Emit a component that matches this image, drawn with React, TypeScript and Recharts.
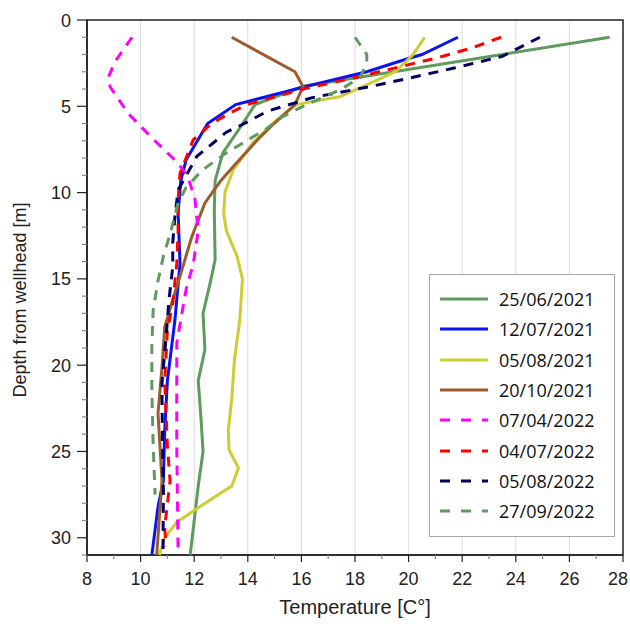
import { ScatterChart, Scatter, XAxis, YAxis, CartesianGrid, ReferenceArea, Legend, Label } from "recharts";

// temperature profiles in a well: depth [m] vs temperature [°C]
const tempTicks = [8, 9, 10, 11, 12, 13, 14, 15, 16, 17, 18, 19, 20, 21, 22, 23, 24, 25, 26, 27, 28];
const depthTicks = [0, 1, 2, 3, 4, 5, 6, 7, 8, 9, 10, 11, 12, 13, 14, 15, 16, 17, 18, 19, 20, 21, 22, 23, 24, 25, 26, 27, 28, 29, 30, 31];
const gridTemps = [10, 12, 14, 16, 18, 20, 22, 24, 26];

const jun2021Depth = [1, 3.84, 4.9, 6.1, 7.7, 9.3, 11, 13.9, 15.2, 17, 19.1, 20.9, 23, 25, 27, 28.6, 31];
const jun2021Temp = [27.5, 16.06, 14.27, 13.77, 13.07, 12.78, 12.75, 12.78, 12.6, 12.33, 12.4, 12.15, 12.25, 12.33, 12.15, 12.03, 11.85];

const jul2021Depth = [1, 2.0, 2.26, 3.0, 3.84, 4.9, 6.0, 8.1, 9.3, 11.2, 14.1, 17.4, 20.9, 23.8, 26.7, 28.2, 31];
const jul2021Temp = [21.84, 20.5, 19.93, 18.44, 16.2, 13.55, 12.5, 11.7, 11.5, 11.4, 11.47, 11.28, 11.0, 10.9, 10.85, 10.65, 10.42];

const aug2021Depth = [1, 2.0, 3.0, 3.76, 4.44, 4.9, 5.9, 7.1, 8.7, 9.95, 11.2, 12.2, 13.7, 15, 17.4, 19.7, 22, 23.8, 24.9, 25.96, 27.0, 28, 29.1, 30, 31];
const aug2021Temp = [20.6, 20.17, 19.5, 18.43, 17.44, 15.8, 15.0, 14.2, 13.45, 13.15, 13.1, 13.2, 13.6, 13.8, 13.7, 13.5, 13.4, 13.27, 13.3, 13.65, 13.4, 12.4, 11.35, 10.9, 10.7];

const oct2021Depth = [1, 3.0, 3.86, 4.9, 5.97, 6.8, 8.5, 9.3, 10.6, 12.6, 14.7, 16.2, 17.8, 20.1, 22.8, 26.7, 31];
const oct2021Temp = [13.4, 15.76, 16.06, 15.76, 15.0, 14.45, 13.45, 13.0, 12.4, 11.9, 11.5, 11.2, 10.9, 10.8, 10.65, 10.8, 10.6];

const apr2022Depth = [1, 2.4, 3.3, 3.87, 5.4, 6.8, 8.3, 9.1, 10.4, 12.2, 14.1, 15.6, 18.7, 21.3, 24.7, 31];
const apr2022Temp = [9.68, 9.05, 8.8, 8.86, 9.53, 10.4, 11.4, 11.77, 12.03, 12.15, 11.97, 11.7, 11.35, 11.35, 11.35, 11.4];

const jul2022Depth = [1, 1.6, 2.2, 2.57, 3.36, 3.95, 4.9, 5.5, 6.0, 6.95, 8.9, 10.4, 12.2, 14.1, 16.4, 18, 20.9, 24.7, 26.7, 29.4, 30.5];
const jul2022Temp = [23.45, 22.4, 21.05, 20.05, 17.94, 16.2, 13.96, 13.2, 12.65, 11.96, 11.47, 11.4, 11.4, 11.35, 11.2, 11.0, 10.9, 11.0, 11.1, 10.9, 10.95];

const aug2022Depth = [1, 2.1, 2.8, 3.36, 3.86, 4.5, 5.3, 5.9, 6.5, 7.9, 9.85, 11.4, 12.9, 14.3, 16.2, 18.4, 21, 22.4, 27.4, 29.7, 31];
const aug2022Temp = [24.9, 23.5, 21.66, 20.05, 18.56, 16.4, 14.7, 14.0, 13.2, 12.1, 11.4, 11.28, 11.2, 11.2, 11.06, 10.95, 10.8, 10.8, 10.85, 10.84, 10.84];

const sep2022Depth = [1, 2.0, 2.5, 3.3, 4.0, 5.0, 5.6, 6.3, 7.7, 8.7, 9.7, 10.6, 12.4, 13.7, 15.1, 16.8, 18.9, 21.4, 24.7, 27.5];
const sep2022Temp = [18.0, 18.44, 18.44, 18.2, 17.5, 16.06, 15.3, 14.7, 13.2, 12.3, 11.7, 11.4, 11.1, 10.85, 10.65, 10.47, 10.42, 10.42, 10.47, 10.54];

const series = [
  { name: "25/06/2021", depth: jun2021Depth, temp: jun2021Temp, color: "#5f9b5f", dashed: false },
  { name: "12/07/2021", depth: jul2021Depth, temp: jul2021Temp, color: "#0a14f0", dashed: false },
  { name: "05/08/2021", depth: aug2021Depth, temp: aug2021Temp, color: "#cccc33", dashed: false },
  { name: "20/10/2021", depth: oct2021Depth, temp: oct2021Temp, color: "#9c5b2c", dashed: false },
  { name: "07/04/2022", depth: apr2022Depth, temp: apr2022Temp, color: "#ff00ff", dashed: true },
  { name: "04/07/2022", depth: jul2022Depth, temp: jul2022Temp, color: "#ff0000", dashed: true },
  { name: "05/08/2022", depth: aug2022Depth, temp: aug2022Temp, color: "#000066", dashed: true },
  { name: "27/09/2022", depth: sep2022Depth, temp: sep2022Temp, color: "#5f9b5f", dashed: true },
];

const FONT = "'Liberation Sans', Arial, sans-serif";

function TempTick({ x, y, payload }: any) {
  const v = payload.value;
  const major = v % 2 === 0;
  // last label sits on the page edge, nudge it in so it is not clipped
  const lx = v === 28 ? x - 5 : x;
  return (
    <g>
      <line x1={x} x2={x} y1={y} y2={y + (major ? 7 : 4)} stroke={major ? "#222" : "#888"} strokeWidth={1.2} />
      {major && (
        <text x={lx} y={y + 30} textAnchor="middle" fontSize={18} fontFamily={FONT} fill="#222">
          {v}
        </text>
      )}
    </g>
  );
}

function DepthTick({ x, y, payload }: any) {
  const v = payload.value;
  const major = v % 5 === 0;
  return (
    <g>
      <line x1={x} x2={x - (major ? 10 : 5)} y1={y} y2={y} stroke={major ? "#222" : "#888"} strokeWidth={1.2} />
      {major && (
        <text x={x - 16} y={y + 6.5} textAnchor="end" fontSize={18} fontFamily={FONT} fill="#222">
          {v}
        </text>
      )}
    </g>
  );
}

function LegendBox() {
  return (
    <div
      style={{
        boxSizing: "border-box",
        width: 186,
        height: 263,
        border: "1px solid #a8a8a8",
        background: "#fff",
        padding: "9px 0 0 10px",
        fontFamily: "'Open Sans', sans-serif",
        fontSize: 18,
        color: "#111",
      }}
    >
      {series.map((s) => (
        <div key={s.name} style={{ display: "flex", alignItems: "center", height: 30.3 }}>
          <svg width={48} height={6} style={{ marginRight: 11 }}>
            <line x1={0} x2={48} y1={3} y2={3} stroke={s.color} strokeWidth={3} strokeDasharray={s.dashed ? "10 11" : undefined} />
          </svg>
          <span>{s.name}</span>
        </div>
      ))}
    </div>
  );
}

export default function App() {
  return (
    <div style={{ position: "absolute", left: 0, top: 0, background: "#fff" }}>
      <ScatterChart width={630} height={624} margin={{ top: 20, right: 7, bottom: 0, left: 0 }}>
        <CartesianGrid horizontal={false} verticalValues={gridTemps} stroke="#dcdcdc" strokeWidth={1} />
        <ReferenceArea x1={8} x2={28} y1={0} y2={31} fill="none" stroke="#222" strokeWidth={1.5} ifOverflow="extendDomain" />
        <XAxis
          type="number"
          dataKey="t"
          domain={[8, 28]}
          ticks={tempTicks}
          interval={0}
          height={69}
          tickSize={0}
          tickMargin={0}
          tick={<TempTick />}
          stroke="#222"
          strokeWidth={1.5}
        >
          <Label
            value="Temperature [C°]"
            position="insideBottom"
            offset={10}
            style={{ fontSize: 20, fontFamily: FONT, fill: "#222" }}
          />
        </XAxis>
        <YAxis
          type="number"
          dataKey="d"
          domain={[0, 31]}
          reversed
          ticks={depthTicks}
          interval={0}
          width={87}
          tickSize={0}
          tickMargin={0}
          tick={<DepthTick />}
          stroke="#222"
          strokeWidth={1.5}
        >
          <Label
            content={() => (
              <text x={26} y={300} transform="rotate(-90, 26, 300)" textAnchor="middle" fontSize={18} fontFamily={FONT} fill="#222">
                Depth from wellhead [m]
              </text>
            )}
          />
        </YAxis>
        {series.map((s) => (
          <Scatter
            key={s.name}
            name={s.name}
            data={s.depth.map((d, i) => ({ d, t: s.temp[i] }))}
            fill={s.color}
            line={{ stroke: s.color, strokeWidth: 3, strokeDasharray: s.dashed ? "10 8" : undefined }}
            lineType="joint"
            shape={() => <g />}
            isAnimationActive={false}
          />
        ))}
        <Legend
          layout="vertical"
          align="center"
          verticalAlign="middle"
          wrapperStyle={{ left: 429, top: 274, width: 186, height: 263 }}
          content={() => <LegendBox />}
        />
      </ScatterChart>
    </div>
  );
}
